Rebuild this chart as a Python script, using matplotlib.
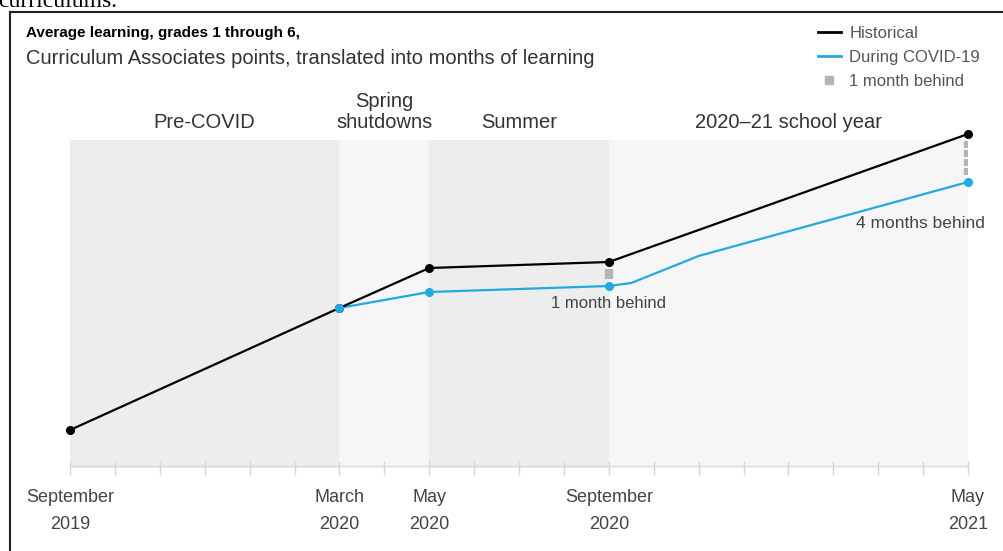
import matplotlib

matplotlib.use("Agg")
import matplotlib.pyplot as plt
from matplotlib.lines import Line2D

plt.rcParams["font.family"] = ["Liberation Sans", "DejaVu Sans"]

# months since September 2019
hist_x = [0, 6, 8, 12, 20]
hist_y = [0.0, 12.2, 16.2, 16.8, 29.6]
covid_x = [6, 8, 12, 12.5, 14, 20]
covid_y = [12.2, 13.8, 14.4, 14.7, 17.4, 24.8]
covid_marker_x = [6, 8, 12, 20]
behind_x = [12, 20]
behind_months = [1, 4]
behind_labels = ["1 month behind", "4 months behind"]

periods = ["Pre-COVID", "Spring\nshutdowns", "Summer", "2020–21 school year"]
period_edges = [0, 6, 8, 12, 20]
period_colors = ["#ededed", "#f6f6f6", "#ededed", "#f6f6f6"]

tick_pos = [0, 6, 8, 12, 20]
tick_labels = ["September\n2019", "March\n2020", "May\n2020", "September\n2020", "May\n2021"]

BLUE = "#22a9e0"
W, H = 1004, 551

fig = plt.figure(figsize=(W / 100, H / 100), dpi=100)
ax = fig.add_axes([70 / W, (H - 468) / H, 898 / W, 328 / H])
ax.set_xlim(0, 20)
ax.set_ylim(-3.8, 29.0)

for i, name in enumerate(periods):
    a, b = period_edges[i], period_edges[i + 1]
    ax.axvspan(a, b, color=period_colors[i], lw=0, zorder=0)
    ax.text((a + b) / 2, 1.025, name, transform=ax.get_xaxis_transform(),
            ha="center", va="bottom", fontsize=14.5, color="#333333",
            linespacing=1.1)

ax.plot(hist_x, hist_y, color="black", lw=1.6, zorder=4, clip_on=False)
ax.plot(hist_x, hist_y, "o", color="black", ms=5.5, zorder=5, clip_on=False)
ax.plot(covid_x, covid_y, color=BLUE, lw=1.6, zorder=3, clip_on=False)
cy = [covid_y[covid_x.index(x)] for x in covid_marker_x]
ax.plot(covid_marker_x, cy, "o", color=BLUE, ms=5.5, zorder=5, clip_on=False)

# gray "1 month behind" blocks between the two lines
for x, n in zip(behind_x, behind_months):
    top = hist_y[hist_x.index(x)]
    bot = covid_y[covid_x.index(x)]
    inner_top, inner_bot = top - 0.6, bot + 0.6
    step = (inner_top - inner_bot) / n
    for k in range(n):
        y1 = inner_top - k * step - 0.1
        y0 = inner_top - (k + 1) * step + 0.1
        ax.vlines(x, y0, y1, color="#b4b4b4", lw=6, zorder=2)

ax.text(12, covid_y[covid_x.index(12)] - 1.0, behind_labels[0], ha="center",
        va="top", fontsize=12, color="#444444")
ax.text(20.38, covid_y[-1] - 3.4, behind_labels[1], ha="right", va="top",
        fontsize=12.5, color="#444444")

for s in ax.spines.values():
    s.set_visible(False)
ax.axhline(-3.6, color="#dddddd", lw=1, zorder=1)
ax.set_yticks([])
ax.set_xticks(tick_pos)
ax.set_xticklabels(tick_labels, fontsize=13, color="#444444", linespacing=1.75)
ax.set_xticks(range(21), minor=True)
ax.tick_params(axis="x", which="both", direction="inout", length=10,
               color="#d6d6d6", width=1, pad=10)

leg_handles = [
    Line2D([], [], color="black", lw=2),
    Line2D([], [], color=BLUE, lw=2),
    Line2D([], [], color="#b4b4b4", marker="s", ls="none", ms=6),
]
leg = fig.legend(leg_handles, ["Historical", "During COVID-19", "1 month behind"],
                 loc="upper left", bbox_to_anchor=(811 / W, 1 - 19 / H),
                 frameon=False, fontsize=12, handlelength=1.4,
                 handletextpad=0.5, labelspacing=0.55, borderaxespad=0)
for t in leg.get_texts():
    t.set_color("#555555")

fig.text(26 / W, 1 - 33 / H, "Average learning, grades 1 through 6,",
         fontsize=11, fontweight="bold", va="center", color="black")
fig.text(26 / W, 1 - 58 / H,
         "Curriculum Associates points, translated into months of learning",
         fontsize=14.5, va="center", color="#333333")
fig.text(-2 / W, 1 - 7 / H, "curriculums.", family="Liberation Serif",
         fontsize=17, va="baseline", color="black")

fig.add_artist(Line2D([10 / W, 10 / W], [0, 1 - 12 / H], color="#222222", lw=1.5))
fig.add_artist(Line2D([10 / W, 1], [1 - 12 / H, 1 - 12 / H], color="#222222", lw=1.5))

fig.savefig("out.png", dpi=100)
